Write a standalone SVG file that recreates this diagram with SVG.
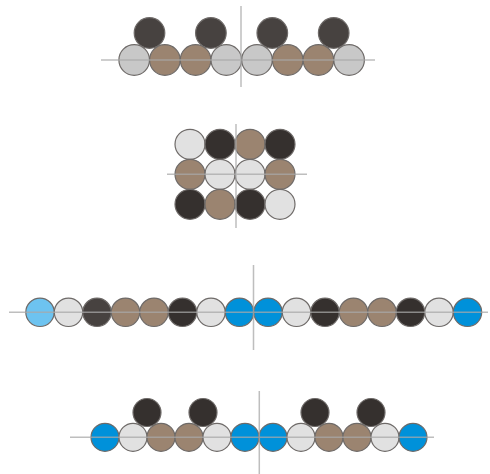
<svg xmlns="http://www.w3.org/2000/svg" width="490" height="474" viewBox="0 0 490 474">
<style>
circle{stroke:#6e6a68;stroke-width:1.2}
.lg{fill:#c8c8c8}
.wh{fill:#e1e1e1}
.br{fill:#9b8470}
.dg{fill:#474240}
.dk{fill:#35302e}
.bl{fill:#0091da}
.lb{fill:#6dc3f0}
.ax{stroke:#a8a8a8;stroke-width:1.5;opacity:0.75;fill:none}
</style>
<rect width="490" height="474" fill="#ffffff"/>
<g id="row1">
<circle class="dg" cx="149.5" cy="33" r="15.3"/>
<circle class="dg" cx="210.9" cy="33" r="15.3"/>
<circle class="dg" cx="272.3" cy="33" r="15.3"/>
<circle class="dg" cx="333.7" cy="33" r="15.3"/>
<circle class="lg" cx="134.2" cy="60" r="15.3"/>
<circle class="br" cx="164.9" cy="60" r="15.3"/>
<circle class="br" cx="195.6" cy="60" r="15.3"/>
<circle class="lg" cx="226.3" cy="60" r="15.3"/>
<circle class="lg" cx="257.0" cy="60" r="15.3"/>
<circle class="br" cx="287.7" cy="60" r="15.3"/>
<circle class="br" cx="318.4" cy="60" r="15.3"/>
<circle class="lg" cx="349.1" cy="60" r="15.3"/>
<path class="ax" d="M101 60H375M241 6V87"/>
</g>
<g id="row2">
<circle class="wh" cx="190" cy="144.3" r="15"/>
<circle class="dk" cx="220" cy="144.3" r="15"/>
<circle class="br" cx="250" cy="144.3" r="15"/>
<circle class="dk" cx="280" cy="144.3" r="15"/>
<circle class="br" cx="190" cy="174.3" r="15"/>
<circle class="wh" cx="220" cy="174.3" r="15"/>
<circle class="wh" cx="250" cy="174.3" r="15"/>
<circle class="br" cx="280" cy="174.3" r="15"/>
<circle class="dk" cx="190" cy="204.3" r="15"/>
<circle class="br" cx="220" cy="204.3" r="15"/>
<circle class="dk" cx="250" cy="204.3" r="15"/>
<circle class="wh" cx="280" cy="204.3" r="15"/>
<path class="ax" d="M167 174.3H307M236 124V228"/>
</g>
<g id="row3">
<circle class="lb" cx="40" cy="312.3" r="14.2"/>
<circle class="wh" cx="68.5" cy="312.3" r="14.2"/>
<circle class="dg" cx="97" cy="312.3" r="14.2"/>
<circle class="br" cx="125.5" cy="312.3" r="14.2"/>
<circle class="br" cx="154" cy="312.3" r="14.2"/>
<circle class="dk" cx="182.5" cy="312.3" r="14.2"/>
<circle class="wh" cx="211" cy="312.3" r="14.2"/>
<circle class="bl" cx="239.5" cy="312.3" r="14.2"/>
<circle class="bl" cx="268" cy="312.3" r="14.2"/>
<circle class="wh" cx="296.5" cy="312.3" r="14.2"/>
<circle class="dk" cx="325" cy="312.3" r="14.2"/>
<circle class="br" cx="353.5" cy="312.3" r="14.2"/>
<circle class="br" cx="382" cy="312.3" r="14.2"/>
<circle class="dk" cx="410.5" cy="312.3" r="14.2"/>
<circle class="wh" cx="439" cy="312.3" r="14.2"/>
<circle class="bl" cx="467.5" cy="312.3" r="14.2"/>
<path class="ax" d="M9 312.3H488M253.5 265V350"/>
</g>
<g id="row4">
<circle class="dk" cx="147" cy="412.5" r="14"/>
<circle class="dk" cx="203" cy="412.5" r="14"/>
<circle class="dk" cx="315" cy="412.5" r="14"/>
<circle class="dk" cx="371" cy="412.5" r="14"/>
<circle class="bl" cx="105" cy="437.3" r="14"/>
<circle class="wh" cx="133" cy="437.3" r="14"/>
<circle class="br" cx="161" cy="437.3" r="14"/>
<circle class="br" cx="189" cy="437.3" r="14"/>
<circle class="wh" cx="217" cy="437.3" r="14"/>
<circle class="bl" cx="245" cy="437.3" r="14"/>
<circle class="bl" cx="273" cy="437.3" r="14"/>
<circle class="wh" cx="301" cy="437.3" r="14"/>
<circle class="br" cx="329" cy="437.3" r="14"/>
<circle class="br" cx="357" cy="437.3" r="14"/>
<circle class="wh" cx="385" cy="437.3" r="14"/>
<circle class="bl" cx="413" cy="437.3" r="14"/>
<path class="ax" d="M70 437.3H434M259.3 391V474"/>
</g>
</svg>
